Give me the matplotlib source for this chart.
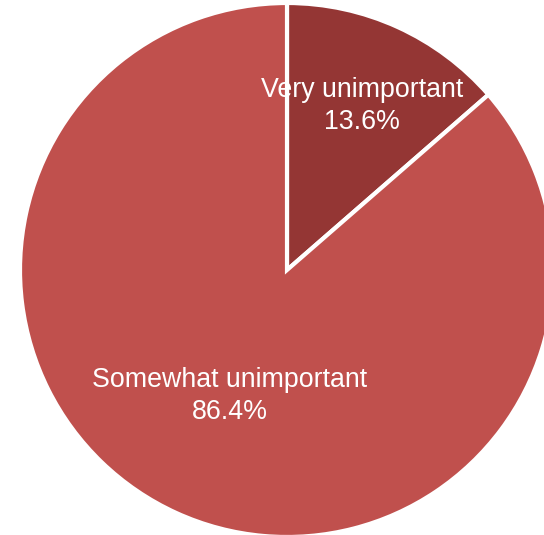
import numpy as np
import matplotlib
matplotlib.use("Agg")
import matplotlib.pyplot as plt

labels = ["Very unimportant", "Somewhat unimportant"]
shares = [13.6, 86.4]
colors = ["#943634", "#C0504D"]
label_dist = [0.675, 0.52]

W, H = 544, 535
cx, cy, r = 287, 270, 267

fig = plt.figure(figsize=(W / 100, H / 100), dpi=100)
ax = fig.add_axes([(cx - r) / W, (H - cy - r) / H, 2 * r / W, 2 * r / H])
wedges, _ = ax.pie(shares, colors=colors, startangle=90, counterclock=False,
                   radius=1, wedgeprops=dict(edgecolor="white", linewidth=3))
for w in wedges:
    w.set_clip_on(False)
ax.set_xlim(-1, 1)
ax.set_ylim(-1, 1)
ax.axis("off")

for w, lab, val, d in zip(wedges, labels, shares, label_dist):
    mid = np.deg2rad((w.theta1 + w.theta2) / 2)
    x, y = d * np.cos(mid), d * np.sin(mid)
    ax.text(x, y, f"{lab}\n{val:.1f}%", ha="center", va="center",
            color="white", fontsize=19.3, family="Liberation Sans",
            linespacing=1.3)

fig.savefig("out.png", dpi=100)
